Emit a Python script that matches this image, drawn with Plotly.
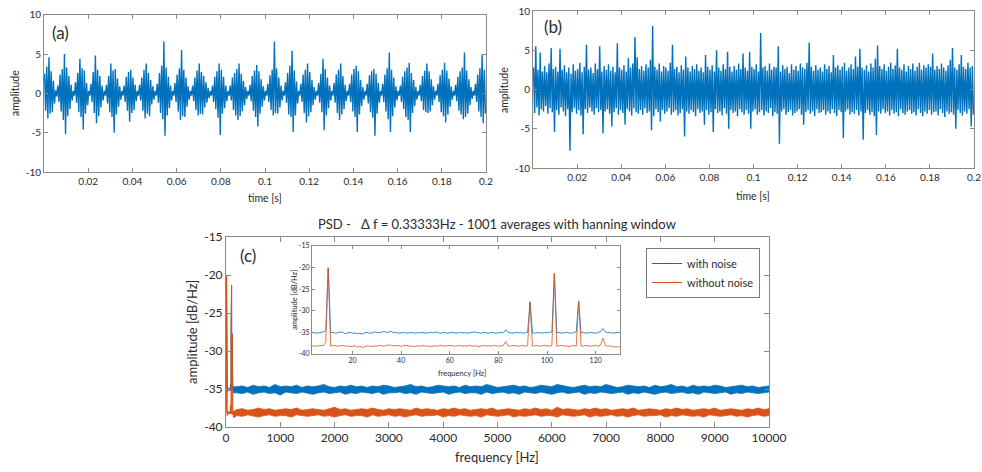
import numpy as np
import plotly.graph_objects as go

# ---------------- DATA ----------------
# (a) time signal without noise: per 1 ms bin, upper / lower extreme (amplitude)
bin_dt = 0.001
a_hi = [2.5, 3.4, 4.6, 2.8, 1.6, 0.4,
        1.0, 2.4, 3.1, 5.0, 3.3, 2.2, 1.1, 0.3,
        1.4, 2.6, 4.4, 3.2, 2.9, 1.3, 0.3,
        1.2, 2.7, 4.8, 3.0, 2.2, 1.0, 0.3,
        1.1, 2.2, 3.8, 2.9, 3.1, 1.9, 0.9, 0.3,
        1.0, 2.1, 2.7, 3.0, 2.0, 1.1, 0.3,
        1.1, 2.0, 3.0, 3.8, 2.6, 1.7, 0.9, 0.3,
        1.2, 2.6, 3.5, 6.6, 3.3, 2.1, 1.0, 0.3,
        1.3, 2.4, 3.2, 5.5, 3.0, 2.0, 0.9, 0.3,
        1.0, 2.0, 2.9, 3.8, 2.7, 2.2, 1.4, 0.7, 0.3,
        1.0, 2.1, 2.8, 3.8, 3.0, 2.1, 1.0, 0.3,
        1.0, 2.0, 2.6, 3.1, 3.8, 2.5, 1.6, 0.8, 0.3,
        1.1, 2.2, 2.9, 3.6, 2.8, 1.8, 0.9, 0.3,
        1.2, 2.3, 3.0, 6.6, 3.2, 2.0, 1.0, 0.3,
        1.4, 2.6, 3.5, 5.4, 2.9, 1.5, 0.3,
        1.2, 2.4, 3.0, 3.8, 2.7, 1.7, 0.8, 0.3,
        1.3, 2.5, 4.4, 3.1, 2.0, 1.0, 0.3,
        1.3, 2.4, 3.0, 3.8, 2.2, 1.1, 0.3,
        1.2, 2.4, 3.1, 3.5, 2.8, 1.7, 0.8, 0.3,
        1.2, 2.3, 2.8, 3.1, 2.5, 1.3, 0.3,
        1.2, 2.4, 3.2, 5.2, 3.0, 2.0, 0.9, 0.3,
        1.0, 2.1, 2.8, 3.3, 3.9, 2.6, 1.7, 0.8, 0.3,
        1.1, 2.2, 2.9, 3.8, 2.8, 1.8, 0.9, 0.3,
        1.2, 2.3, 3.0, 3.9, 2.9, 1.9, 0.9, 0.3,
        1.1, 2.1, 2.8, 3.3, 5.2, 2.9, 1.8, 0.8, 0.3,
        1.2, 2.4, 3.2, 4.9, 3.0]
a_lo = [-2.2, -3.2, -2.6, -2.4, -1.3, -0.4,
        -1.1, -2.3, -3.4, -5.2, -2.9, -2.0, -0.9, -0.3,
        -1.2, -2.4, -3.0, -4.6, -2.6, -1.5, -0.3,
        -1.1, -2.5, -3.8, -2.9, -1.8, -0.9, -0.3,
        -1.3, -2.4, -3.0, -5.0, -2.7, -1.7, -0.8, -0.3,
        -1.1, -2.2, -3.6, -2.5, -2.1, -1.0, -0.3,
        -0.9, -2.2, -3.2, -2.6, -2.9, -1.4, -0.8, -0.3,
        -1.2, -2.5, -3.3, -5.4, -2.8, -1.9, -0.9, -0.3,
        -1.1, -2.3, -3.4, -2.9, -3.0, -1.7, -0.8, -0.3,
        -1.0, -2.1, -2.8, -2.6, -2.7, -1.8, -1.2, -0.6, -0.3,
        -1.1, -2.0, -3.1, -5.3, -2.6, -1.9, -1.0, -0.3,
        -0.9, -2.1, -2.8, -3.4, -2.9, -2.3, -1.5, -0.7, -0.3,
        -1.0, -2.2, -3.0, -4.2, -2.6, -1.7, -0.9, -0.3,
        -1.1, -2.1, -2.8, -2.5, -2.6, -1.8, -0.9, -0.3,
        -1.2, -2.7, -3.0, -4.9, -2.8, -1.3, -0.3,
        -1.1, -2.5, -3.7, -2.9, -2.4, -1.5, -0.8, -0.3,
        -1.2, -2.4, -4.7, -2.8, -1.9, -0.9, -0.3,
        -1.2, -2.5, -3.4, -2.7, -2.0, -1.0, -0.3,
        -1.1, -2.3, -3.0, -4.9, -2.7, -1.6, -0.8, -0.3,
        -1.3, -2.4, -3.1, -5.4, -2.6, -1.2, -0.3,
        -1.1, -2.3, -3.3, -4.9, -2.9, -1.8, -0.9, -0.3,
        -1.1, -2.0, -3.0, -3.4, -4.9, -2.5, -1.6, -0.8, -0.3,
        -1.0, -2.1, -2.4, -2.5, -2.3, -1.5, -0.8, -0.3,
        -1.1, -2.4, -2.9, -3.7, -2.7, -1.7, -0.8, -0.3,
        -1.0, -2.2, -2.7, -3.3, -3.0, -2.6, -1.5, -0.7, -0.3,
        -1.1, -2.3, -3.0, -3.8, -2.6]

# (b) time signal with noise: per 1 ms bin, upper / lower extreme
b_hi = [2.8, 5.5, 2.5, 4.7, 2.3, 3.0, 2.2, 3.3, 5.3, 2.6,
        2.9, 2.3, 5.2, 2.5, 3.1, 2.2, 2.8, 2.0, 3.2, 2.4,
        2.6, 3.4, 2.2, 2.9, 5.7, 2.5, 2.8, 2.1, 3.3, 2.6,
        5.5, 2.3, 3.0, 2.5, 3.2, 2.4, 2.9, 2.2, 5.9, 2.8,
        2.5, 3.1, 2.3, 4.0, 2.8, 3.3, 6.7, 4.1, 2.6, 3.0,
        2.4, 3.2, 2.8, 3.8, 8.1, 2.9, 2.5, 3.3, 2.3, 3.0,
        2.8, 2.4, 3.4, 5.7, 2.6, 2.9, 2.2, 3.1, 2.5, 4.2,
        2.8, 2.3, 3.0, 2.6, 3.2, 2.4, 2.8, 2.2, 4.4, 2.9,
        2.5, 3.1, 2.3, 5.0, 2.8, 2.4, 3.2, 2.6, 4.8, 2.9,
        2.3, 3.0, 2.5, 3.3, 2.6, 4.6, 2.8, 2.4, 4.8, 2.9,
        2.6, 3.2, 2.3, 7.2, 2.8, 3.0, 2.4, 3.3, 2.5, 2.9,
        2.8, 5.5, 2.3, 3.1, 2.6, 2.9, 2.1, 3.2, 2.5, 3.0,
        2.4, 3.3, 2.8, 2.6, 3.4, 6.0, 2.9, 2.4, 3.1, 2.5,
        2.8, 2.3, 3.2, 2.6, 3.0, 2.2, 4.4, 2.8, 3.1, 2.5,
        2.9, 3.4, 2.4, 2.8, 3.2, 2.6, 4.2, 2.9, 5.2, 2.8,
        2.5, 3.1, 2.3, 3.3, 2.8, 3.9, 5.6, 3.0, 2.6, 3.2,
        2.4, 2.9, 3.4, 2.6, 3.1, 5.2, 2.8, 2.5, 3.2, 2.3,
        3.0, 2.6, 3.3, 2.4, 2.9, 3.4, 2.5, 3.1, 2.8, 3.2,
        2.9, 4.6, 2.5, 3.0, 2.6, 3.3, 2.8, 2.4, 3.1, 3.8,
        5.3, 2.8, 2.5, 3.2, 4.4, 2.9, 2.6, 3.4, 2.8, 3.0]
b_lo = [-3.0, -2.3, -3.3, -2.5, -2.8, -2.1, -3.1, -2.4, -2.9, -5.4,
        -2.6, -3.2, -2.3, -2.8, -3.4, -2.5, -7.8, -2.9, -2.4, -3.1,
        -2.6, -3.3, -5.7, -2.5, -3.0, -2.3, -2.8, -3.2, -2.4, -2.9,
        -2.6, -5.6, -2.8, -2.5, -3.1, -4.7, -2.9, -2.4, -3.2, -2.6,
        -3.0, -4.5, -2.5, -2.8, -3.3, -2.4, -2.9, -3.1, -2.6, -3.2,
        -2.4, -3.0, -2.8, -5.2, -3.4, -2.5, -2.9, -4.1, -2.6, -3.1,
        -2.8, -2.4, -3.2, -2.9, -2.6, -3.3, -3.0, -2.5, -6.0, -2.8,
        -3.1, -2.6, -2.9, -3.4, -2.5, -3.0, -2.8, -4.5, -2.6, -3.2,
        -2.9, -5.4, -2.5, -3.0, -2.8, -3.3, -2.4, -3.1, -5.0, -2.6,
        -3.0, -2.8, -3.4, -2.5, -2.9, -3.2, -2.6, -3.1, -5.0, -2.8,
        -2.5, -3.2, -2.9, -2.6, -3.3, -2.8, -3.0, -2.4, -3.4, -2.9,
        -3.1, -6.9, -2.8, -2.5, -3.2, -2.9, -2.6, -3.3, -3.0, -2.8,
        -2.5, -3.2, -4.5, -2.9, -2.6, -3.1, -2.8, -3.4, -2.5, -3.0,
        -2.9, -2.6, -3.2, -2.8, -3.1, -2.5, -3.0, -3.4, -2.6, -2.9,
        -6.2, -2.8, -2.5, -3.2, -2.9, -3.1, -2.6, -3.3, -2.8, -6.4,
        -3.0, -2.6, -3.2, -2.9, -3.4, -5.8, -2.8, -3.1, -2.5, -3.0,
        -2.8, -3.3, -2.6, -3.1, -2.9, -3.4, -2.5, -3.0, -3.2, -2.8,
        -2.6, -3.1, -2.9, -3.3, -2.5, -3.0, -3.4, -2.8, -3.1, -2.6,
        -3.2, -2.9, -2.8, -3.3, -2.5, -3.0, -3.5, -2.8, -3.1, -2.9,
        -3.2, -5.0, -2.6, -3.0, -3.3, -2.8, -3.1, -2.5, -4.7, -3.2]

# (c) PSD, low-frequency detail (1 Hz steps from 3 Hz to 130 Hz), dB/Hz
psd_f_low = list(range(3, 131))
psd_noise_low = [-35.1, -35.0, -35.2, -35.1, -35.0, -34.9, -34.6, -20.2, -35.1, -35.0,
                 -35.2, -35.1, -34.9, -35.0, -35.3, -35.1, -35.0, -35.2, -35.1, -35.3,
                 -35.2, -35.4, -35.1, -35.0, -35.2, -35.1, -34.9, -35.0, -35.1, -34.9,
                 -34.8, -35.0, -34.9, -34.8, -35.1, -35.0, -35.2, -35.1, -35.0, -35.2,
                 -35.1, -35.0, -35.1, -35.2, -35.0, -35.1, -35.0, -35.2, -35.1, -35.0,
                 -35.1, -34.9, -35.0, -35.2, -35.1, -35.0, -35.2, -35.1, -35.0, -35.1,
                 -35.2, -35.0, -35.1, -35.0, -35.2, -35.1, -35.0, -34.9, -35.0, -35.1,
                 -35.2, -35.0, -35.1, -35.2, -35.0, -35.1, -35.2, -35.1, -35.0, -35.1,
                 -34.4, -35.0, -35.1, -35.2, -35.0, -35.1, -35.0, -35.2, -35.1, -35.0,
                 -27.9, -35.1, -35.2, -35.0, -35.1, -35.2, -35.0, -35.1, -35.0, -34.9,
                 -21.5, -35.1, -35.0, -35.2, -35.1, -35.0, -35.1, -35.2, -35.0, -34.9,
                 -27.7, -35.1, -35.0, -35.2, -35.1, -35.0, -35.1, -35.2, -35.0, -34.8,
                 -34.1, -34.9, -35.1, -35.0, -35.2, -35.1, -35.0, -35.1]
psd_clean_low = [-38.2, -38.1, -38.2, -38.1, -38.0, -38.1, -37.2, -20.0, -38.2, -38.0,
                 -38.1, -38.2, -38.1, -38.0, -38.2, -38.1, -38.3, -38.2, -38.1, -38.4,
                 -38.2, -38.5, -38.3, -38.1, -38.2, -38.3, -38.1, -38.2, -38.0, -38.1,
                 -38.2, -38.0, -37.9, -38.0, -38.1, -38.0, -38.1, -38.2, -38.1, -38.0,
                 -38.2, -38.1, -38.3, -38.2, -38.1, -38.2, -38.0, -38.2, -38.1, -38.3,
                 -38.2, -38.1, -38.2, -38.0, -38.1, -38.2, -38.1, -38.0, -38.1, -38.2,
                 -38.1, -38.0, -38.2, -38.1, -38.2, -38.0, -38.1, -38.2, -38.1, -38.3,
                 -38.1, -38.0, -38.2, -38.1, -38.2, -38.0, -38.1, -38.2, -38.1, -38.0,
                 -37.1, -38.1, -38.2, -38.0, -38.1, -38.2, -38.1, -38.0, -38.2, -38.1,
                 -28.1, -38.2, -38.1, -38.0, -38.2, -38.1, -38.0, -38.1, -38.2, -38.0,
                 -21.3, -38.2, -38.1, -38.0, -38.2, -38.1, -38.3, -38.1, -38.0, -38.2,
                 -27.9, -38.1, -38.2, -38.0, -38.1, -38.2, -38.1, -38.0, -38.2, -37.9,
                 -36.3, -38.0, -38.2, -38.1, -38.3, -38.4, -38.3, -38.4]

# (c) PSD, broadband part: per 100 Hz bin (200 Hz ... 10000 Hz) upper / lower level
psd_f_band = list(range(200, 10001, 100))
noise_hi = [-34.7, -34.6, -34.8, -34.5, -34.7, -34.6, -34.8, -34.4, -34.7, -34.6,
            -34.7, -34.5, -34.8, -34.6, -34.7, -34.6, -34.4, -34.7, -34.8, -34.6,
            -34.7, -34.5, -34.7, -34.6, -34.8, -34.6, -34.7, -34.5, -34.6, -34.8,
            -34.7, -34.6, -34.4, -34.7, -34.6, -34.8, -34.7, -34.5, -34.6, -34.7,
            -34.6, -34.8, -34.5, -34.7, -34.6, -34.7, -34.4, -34.6, -34.8, -34.7,
            -34.6, -34.5, -34.7, -34.6, -34.8, -34.7, -34.5, -34.6, -34.7, -34.4,
            -34.6, -34.7, -34.8, -34.6, -34.5, -34.7, -34.6, -34.7, -34.4, -34.6,
            -34.8, -34.7, -34.5, -34.6, -34.7, -34.6, -34.8, -34.5, -34.7, -34.6,
            -34.4, -34.7, -34.6, -34.8, -34.5, -34.7, -34.6, -34.7, -34.5, -34.6,
            -34.8, -34.7, -34.6, -34.5, -34.7, -34.6, -34.8, -34.7, -34.6]
noise_lo = [-35.5, -35.6, -35.4, -35.7, -35.5, -35.4, -35.6, -35.5, -35.8, -35.4,
            -35.5, -35.6, -35.4, -35.5, -35.7, -35.5, -35.4, -35.6, -35.5, -35.4,
            -35.7, -35.5, -35.6, -35.4, -35.5, -35.6, -35.4, -35.7, -35.5, -35.5,
            -35.4, -35.6, -35.5, -35.7, -35.4, -35.5, -35.6, -35.5, -35.4, -35.7,
            -35.5, -35.4, -35.6, -35.5, -35.5, -35.7, -35.4, -35.6, -35.5, -35.4,
            -35.6, -35.5, -35.7, -35.4, -35.5, -35.6, -35.4, -35.5, -35.7, -35.5,
            -35.4, -35.6, -35.5, -35.4, -35.7, -35.5, -35.6, -35.4, -35.5, -35.6,
            -35.5, -35.4, -35.7, -35.5, -35.6, -35.4, -35.5, -35.7, -35.5, -35.4,
            -35.6, -35.5, -35.4, -35.6, -35.5, -35.7, -35.4, -35.5, -35.6, -35.5,
            -35.4, -35.7, -35.5, -35.6, -35.4, -35.5, -35.6, -35.5, -35.4]
clean_hi = [-37.7, -37.6, -37.8, -37.7, -37.5, -37.7, -37.6, -37.8, -37.7, -37.6,
            -37.7, -37.5, -37.8, -37.7, -37.6, -37.7, -37.8, -37.6, -37.4, -37.7,
            -37.6, -37.8, -37.7, -37.6, -37.7, -37.5, -37.7, -37.8, -37.6, -37.7,
            -37.6, -37.7, -37.8, -37.5, -37.7, -37.6, -37.7, -37.8, -37.6, -37.7,
            -37.5, -37.7, -37.6, -37.8, -37.7, -37.6, -37.7, -37.5, -37.8, -37.7,
            -37.6, -37.7, -37.8, -37.6, -37.7, -37.5, -37.7, -37.6, -37.8, -37.4,
            -37.7, -37.6, -37.7, -37.8, -37.6, -37.7, -37.5, -37.7, -37.6, -37.8,
            -37.7, -37.6, -37.7, -37.5, -37.8, -37.7, -37.6, -37.7, -37.8, -37.6,
            -37.7, -37.5, -37.7, -37.6, -37.8, -37.7, -37.6, -37.7, -37.5, -37.8,
            -37.7, -37.6, -37.7, -37.8, -37.6, -37.7, -37.5, -37.7, -37.6]
clean_lo = [-38.5, -38.6, -38.4, -38.5, -38.7, -38.5, -38.4, -38.6, -38.5, -38.5,
            -38.7, -38.4, -38.5, -38.6, -38.5, -38.4, -38.6, -38.5, -38.7, -38.5,
            -38.4, -38.6, -38.5, -38.5, -38.7, -38.4, -38.6, -38.5, -38.4, -38.6,
            -38.5, -38.7, -38.5, -38.4, -38.6, -38.5, -38.5, -38.4, -38.7, -38.5,
            -38.6, -38.4, -38.5, -38.6, -38.5, -38.7, -38.4, -38.5, -38.6, -38.5,
            -38.4, -38.7, -38.5, -38.6, -38.5, -38.4, -38.6, -38.5, -38.5, -38.7,
            -38.4, -38.5, -38.6, -38.5, -38.4, -38.7, -38.5, -38.6, -38.5, -38.4,
            -38.6, -38.5, -38.7, -38.5, -38.4, -38.6, -38.5, -38.5, -38.4, -38.7,
            -38.5, -38.6, -38.4, -38.5, -38.6, -38.5, -38.7, -38.4, -38.5, -38.6,
            -38.5, -38.4, -38.6, -38.5, -38.7, -38.5, -38.4, -38.6, -38.5]

series_names = ["with noise", "without noise"]
time_ticks = [0.02, 0.04, 0.06, 0.08, 0.1, 0.12, 0.14, 0.16, 0.18, 0.2]
time_ticklabels = ["0.02", "0.04", "0.06", "0.08", "0.1", "0.12", "0.14", "0.16", "0.18", "0.2"]
amp_ticks = [-10, -5, 0, 5, 10]
amp_ticklabels = ["-10", "-5", "0", "5", "10"]
freq_ticks = list(range(0, 10001, 1000))
freq_ticklabels = [str(v) for v in freq_ticks]
db_ticks = [-40, -35, -30, -25, -20, -15]
db_ticklabels = ["-40", "-35", "-30", "-25", "-20", "-15"]
inset_ticks = [20, 40, 60, 80, 100, 120]
inset_ticklabels = ["20", "40", "60", "80", "100", "120"]

# ---------------- STYLE ----------------
BLUE = "#0072BD"
ORANGE = "#D95319"
AXC = "#8a8a8a"
TXT = "#2b2b2b"
FONT = "Lato"
W, H = 982, 472


def px(x):
    return x / W


def py(y):
    return 1 - y / H


def zigzag(hi, lo, dt):
    xs, ys = [], []
    for i, (h, l) in enumerate(zip(hi, lo)):
        xs += [(i + 0.25) * dt, (i + 0.75) * dt]
        ys += [h, l]
    return xs, ys


def band(f, hi, lo, f_start, v_start_hi, v_start_lo):
    xs = [f_start] + list(f) + list(f)[::-1] + [f_start]
    ys = [v_start_hi] + list(hi) + list(lo)[::-1] + [v_start_lo]
    return xs, ys


fig = go.Figure()

xa, ya = zigzag(a_hi, a_lo, bin_dt)
fig.add_trace(go.Scatter(x=xa, y=ya, mode="lines", line=dict(color=BLUE, width=1.4),
                         showlegend=False, xaxis="x", yaxis="y", hoverinfo="skip"))
xb, yb = zigzag(b_hi, b_lo, bin_dt)
fig.add_trace(go.Scatter(x=xb, y=yb, mode="lines", line=dict(color=BLUE, width=1.4),
                         showlegend=False, xaxis="x2", yaxis="y2", hoverinfo="skip"))

# main PSD
bx, by = band(psd_f_band, noise_hi, noise_lo, psd_f_low[-1], psd_noise_low[-1] + 0.4, psd_noise_low[-1] - 0.4)
fig.add_trace(go.Scatter(x=bx, y=by, mode="lines", fill="toself", fillcolor=BLUE,
                         line=dict(color=BLUE, width=0.8), showlegend=False,
                         xaxis="x3", yaxis="y3", hoverinfo="skip"))
fig.add_trace(go.Scatter(x=psd_f_low, y=psd_noise_low, mode="lines", name=series_names[0],
                         line=dict(color=BLUE, width=1), xaxis="x3", yaxis="y3"))
cx, cy = band(psd_f_band, clean_hi, clean_lo, psd_f_low[-1], psd_clean_low[-1] + 0.4, psd_clean_low[-1] - 0.4)
fig.add_trace(go.Scatter(x=cx, y=cy, mode="lines", fill="toself", fillcolor=ORANGE,
                         line=dict(color=ORANGE, width=0.8), showlegend=False,
                         xaxis="x3", yaxis="y3", hoverinfo="skip"))
fig.add_trace(go.Scatter(x=psd_f_low, y=psd_clean_low, mode="lines", name=series_names[1],
                         line=dict(color=ORANGE, width=1), xaxis="x3", yaxis="y3"))

# inset
fig.add_trace(go.Scatter(x=psd_f_low, y=psd_noise_low, mode="lines", line=dict(color=BLUE, width=0.8),
                         showlegend=False, xaxis="x4", yaxis="y4"))
fig.add_trace(go.Scatter(x=psd_f_low, y=psd_clean_low, mode="lines", line=dict(color=ORANGE, width=0.8),
                         showlegend=False, xaxis="x4", yaxis="y4"))


def ax(domain, rng, tickvals, ticktext, size, anchor, ticklen=4):
    return dict(domain=domain, range=rng, tickvals=tickvals, ticktext=ticktext,
                showline=True, linecolor=AXC, linewidth=1, mirror="ticks", ticks="inside",
                ticklen=ticklen, tickcolor=AXC, showgrid=False, zeroline=False, anchor=anchor,
                automargin=False, tickfont=dict(family=FONT, size=size, color=TXT))


fig.update_layout(
    template="none",
    width=W, height=H, margin=dict(l=0, r=0, t=0, b=0, autoexpand=False),
    paper_bgcolor="white", plot_bgcolor="white",
    xaxis=ax([px(44), px(486)], [0, 0.2], time_ticks, time_ticklabels, 10, "y"),
    yaxis=ax([py(172), py(14.7)], [-10, 10], amp_ticks, amp_ticklabels, 10, "x"),
    xaxis2=ax([px(533), px(974)], [0, 0.2], time_ticks, time_ticklabels, 10, "y2"),
    yaxis2=ax([py(168), py(11)], [-10, 10], amp_ticks, amp_ticklabels, 10, "x2"),
    xaxis3=ax([px(226), px(769)], [0, 10000], freq_ticks, freq_ticklabels, 12, "y3", ticklen=5),
    yaxis3=ax([py(427), py(237)], [-40, -15], db_ticks, db_ticklabels, 12, "x3", ticklen=5),
    xaxis4=ax([px(312), px(620)], [3.33, 130], inset_ticks, inset_ticklabels, 7, "y4", ticklen=3),
    yaxis4=ax([py(354), py(246)], [-40, -15], db_ticks, db_ticklabels, 7, "x4", ticklen=3),
    legend=dict(x=px(646), y=py(248), xanchor="left", yanchor="top",
                bordercolor="#7a7a7a", borderwidth=1, bgcolor="white", itemwidth=30,
                font=dict(family=FONT, size=11, color=TXT), tracegroupgap=0),
    showlegend=True,
)

ann = [
    ("(a)", 60, 32, 17, 0),
    ("(b)", 553, 27, 17, 0),
    ("(c)", 248, 255, 17, 0),
    ("amplitude", 15, 93, 10.5, -90),
    ("amplitude", 504, 90, 10.5, -90),
    ("time [s]", 265, 198, 10.5, 0),
    ("time [s]", 753, 196, 10.5, 0),
    ("PSD -   \u0394 f = 0.33333Hz - 1001 averages with hanning window", 497, 224, 13, 0),
    ("frequency [Hz]", 497, 457, 13, 0),
    ("amplitude [dB/Hz]", 192, 332, 13, -90),
    ("amplitude [dB/Hz]", 294, 300, 7.5, -90),
    ("frequency [Hz]", 462, 373, 7.5, 0),
]
for text, x, y, size, ang in ann:
    fig.add_annotation(text=text, x=px(x), y=py(y), xref="paper", yref="paper",
                       showarrow=False, textangle=ang, xanchor="center", yanchor="middle",
                       font=dict(family=FONT, size=size, color=TXT))

fig.write_html("out.html", config={"displayModeBar": False},
               post_script="document.body.style.margin='0';document.body.style.overflow='hidden';")
